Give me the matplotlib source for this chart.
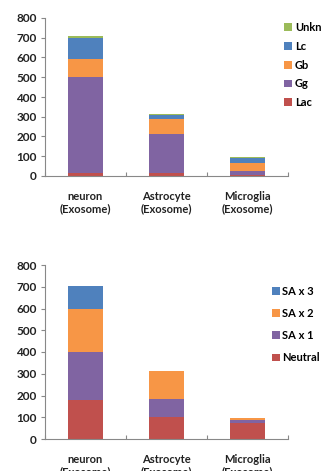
import numpy as np
import matplotlib
matplotlib.use("Agg")
from matplotlib import pyplot as plt

plt.rcParams['font.family'] = ['Lato', 'DejaVu Sans']

categories = ["neuron\n(Exosome)", "Astrocyte\n(Exosome)", "Microglia\n(Exosome)"]

# top chart: glycan types
top_names = ["Lac", "Gg", "Gb", "Lc", "Unkn"]
lac = [15, 15, 3]
gg = [485, 200, 22]
gb = [90, 75, 40]
lc = [110, 18, 27]
unkn = [8, 8, 6]

# bottom chart: sialylation
bot_names = ["Neutral", "SA x 1", "SA x 2", "SA x 3"]
neutral = [180, 100, 72]
sa1 = [220, 85, 16]
sa2 = [200, 127, 8]
sa3 = [105, 0, 0]

yticks = [0, 100, 200, 300, 400, 500, 600, 700, 800]

red = "#C0504D"
purple = "#8064A2"
orange = "#F79646"
blue = "#4F81BD"
green = "#9BBB59"

fig = plt.figure(figsize=(3.23, 4.71), dpi=100)
ax1 = fig.add_axes([45/323, 1 - 176/471, 243/323, 158/471])
ax2 = fig.add_axes([45/323, 1 - 439/471, 243/323, 174/471])

x = np.arange(len(categories))
w = 0.42


def stack(ax, series, colors, names):
    bottom = np.zeros(len(categories))
    handles = []
    for vals, c, n in zip(series, colors, names):
        h = ax.bar(x, vals, w, bottom=bottom, color=c, label=n, linewidth=0)
        handles.append(h)
        bottom += np.array(vals)
    return handles


def style(ax):
    ax.set_xlim(-0.5, 2.5)
    ax.set_ylim(0, 800)
    ax.set_yticks(yticks)
    ax.set_xticks([-0.5, 0.5, 1.5, 2.5])
    ax.set_xticklabels([])
    ax.set_xticks(x, minor=True)
    ax.set_xticklabels(categories, minor=True, fontsize=8, fontweight="bold",
                       color="#222222", linespacing=1.1)
    ax.tick_params(axis="x", which="minor", length=0, pad=11)
    ax.tick_params(axis="x", which="major", length=3, direction="in", color="#888888")
    ax.tick_params(axis="y", length=3, direction="out", color="#888888", labelsize=8.5, pad=3)
    for t in ax.get_yticklabels():
        t.set_fontweight("bold")
        t.set_color("#222222")
    for s in ["top", "right"]:
        ax.spines[s].set_visible(False)
    ax.spines["left"].set_color("#888888")
    ax.spines["bottom"].set_color("#888888")


h1 = stack(ax1, [lac, gg, gb, lc, unkn], [red, purple, orange, blue, green], top_names)
h2 = stack(ax2, [neutral, sa1, sa2, sa3], [red, purple, orange, blue], bot_names)
style(ax1)
style(ax2)

fig.legend(h1[::-1], top_names[::-1], loc="upper left", bbox_to_anchor=(284/323, 1 - 22/471),
           frameon=False, handlelength=0.7, handleheight=0.7, handletextpad=0.3,
           labelspacing=0.7, borderaxespad=0, borderpad=0, prop={"weight": "bold", "size": 8})
fig.legend(h2[::-1], bot_names[::-1], loc="upper left", bbox_to_anchor=(272/323, 1 - 286/471),
           frameon=False, handlelength=0.7, handleheight=0.7, handletextpad=0.2,
           labelspacing=1.0, borderaxespad=0, borderpad=0, prop={"weight": "bold", "size": 8})

fig.savefig("out.png", dpi=100)
